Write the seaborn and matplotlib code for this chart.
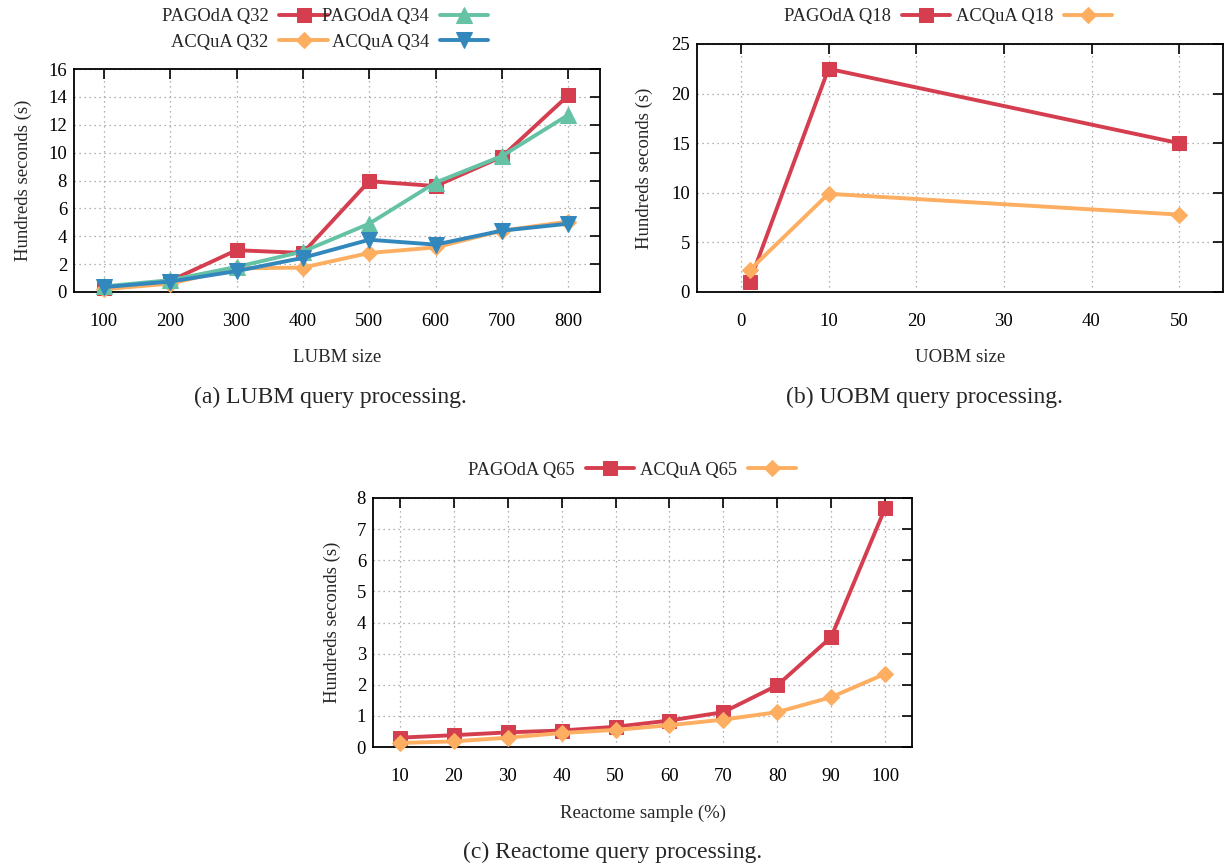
import matplotlib
matplotlib.use("Agg")
import matplotlib.pyplot as plt
import seaborn as sns
import pandas as pd

# ---------------- data ----------------
lubm_sizes = [100, 200, 300, 400, 500, 600, 700, 800]
pagoda_q32 = [0.3, 0.8, 3.0, 2.8, 7.95, 7.6, 9.7, 14.1]
pagoda_q34 = [0.4, 0.85, 1.8, 2.9, 4.9, 7.85, 9.75, 12.7]
acqua_q32 = [0.2, 0.6, 1.7, 1.75, 2.8, 3.2, 4.4, 5.05]
acqua_q34 = [0.35, 0.75, 1.5, 2.45, 3.75, 3.4, 4.4, 4.9]

uobm_sizes = [1, 10, 50]
pagoda_q18 = [1.0, 22.5, 15.0]
acqua_q18 = [2.2, 9.9, 7.8]

reactome_samples = [10, 20, 30, 40, 50, 60, 70, 80, 90, 100]
pagoda_q65 = [0.3, 0.38, 0.47, 0.53, 0.65, 0.85, 1.12, 1.98, 3.53, 7.67]
acqua_q65 = [0.13, 0.18, 0.3, 0.45, 0.55, 0.7, 0.88, 1.12, 1.6, 2.35]

RED = "#d53e4f"
ORANGE = "#fdae61"
GREEN = "#66c2a5"
BLUE = "#3288bd"

sns.set_theme(style="white")
plt.rcParams["font.family"] = ["Liberation Serif", "DejaVu Serif"]

W, H = 1225, 867
fig = plt.figure(figsize=(W / 100, H / 100), dpi=100)


def px_axes(left, top, right, bottom):
    return fig.add_axes([left / W, 1 - bottom / H, (right - left) / W, (bottom - top) / H])


def style_axes(ax, xticks, yticks, xlim, ylim, xlabel, ylabelpad):
    ax.set_xlim(*xlim)
    ax.set_ylim(*ylim)
    ax.set_xticks(xticks)
    ax.set_yticks(yticks)
    ax.tick_params(direction="in", length=7, width=1.2, top=True, right=True,
                   labelsize=13.5, colors="black")
    ax.tick_params(axis="x", pad=15)
    ax.tick_params(axis="y", pad=5)
    ax.grid(True, linestyle=(0, (1, 3)), color="#999999", linewidth=0.9)
    for s in ax.spines.values():
        s.set_color("black")
        s.set_linewidth(1.3)
        s.set_visible(True)
    ax.set_xlabel(xlabel, fontsize=13.5, labelpad=14)
    ax.set_ylabel("Hundreds seconds (s)", fontsize=13.5, labelpad=ylabelpad)


def draw(ax, x, y, color, marker, ms, label):
    df = pd.DataFrame({"x": x, "y": y})
    sns.lineplot(data=df, x="x", y="y", ax=ax, color=color, marker=marker,
                 markersize=ms, markeredgecolor=color, linewidth=2.8, label=label,
                 clip_on=False, zorder=3)


def legend(ax, anchor, colspacing):
    leg = ax.legend(ncol=2, loc="center", bbox_to_anchor=anchor, frameon=False,
                    markerfirst=False, fontsize=13.3, handlelength=2.6,
                    columnspacing=colspacing, handletextpad=0.6, labelspacing=0.45,
                    borderpad=0, borderaxespad=0,
                    bbox_transform=fig.transFigure)
    return leg


# ---- (a) LUBM ----
axa = px_axes(74, 69, 600, 292)
draw(axa, lubm_sizes, pagoda_q32, RED, "s", 10.5, "PAGOdA Q32")
draw(axa, lubm_sizes, acqua_q32, ORANGE, "D", 8, "ACQuA Q32")
draw(axa, lubm_sizes, pagoda_q34, GREEN, "^", 11, "PAGOdA Q34")
draw(axa, lubm_sizes, acqua_q34, BLUE, "v", 11, "ACQuA Q34")
style_axes(axa, lubm_sizes, range(0, 17, 2), (55, 848), (0, 16), "LUBM size", 12)
legend(axa, (325 / W, 1 - 29.5 / H), -0.28)

# ---- (b) UOBM ----
axb = px_axes(697, 44, 1223, 292)
draw(axb, uobm_sizes, pagoda_q18, RED, "s", 10.5, "PAGOdA Q18")
draw(axb, uobm_sizes, acqua_q18, ORANGE, "D", 8, "ACQuA Q18")
style_axes(axb, [0, 10, 20, 30, 40, 50], range(0, 26, 5), (-5, 55), (0, 25), "UOBM size", 13)
legend(axb, (948 / W, 1 - 17 / H), 0.33)

# ---- (c) Reactome ----
axc = px_axes(373, 498, 912, 747)
draw(axc, reactome_samples, pagoda_q65, RED, "s", 10.5, "PAGOdA Q65")
draw(axc, reactome_samples, acqua_q65, ORANGE, "D", 8, "ACQuA Q65")
style_axes(axc, reactome_samples, range(0, 9), (5, 105), (0, 8), "Reactome sample (%)", 11)
legend(axc, (632 / W, 1 - 470 / H), 0.33)

# captions
fig.text(330 / W, 1 - 397 / H, "(a) LUBM query processing.", ha="center", va="center", fontsize=17)
fig.text(924 / W, 1 - 397 / H, "(b) UOBM query processing.", ha="center", va="center", fontsize=17)
fig.text(613 / W, 1 - 852 / H, "(c) Reactome query processing.", ha="center", va="center", fontsize=17)

fig.savefig("out.png", dpi=100)
